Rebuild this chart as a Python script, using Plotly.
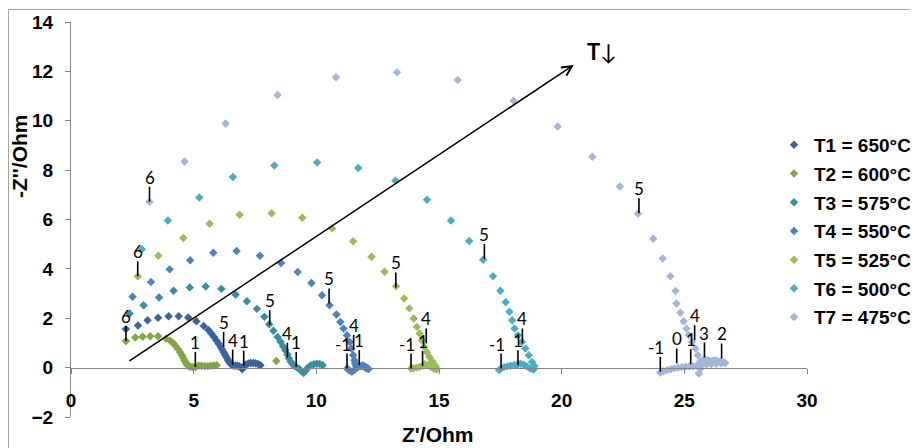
import plotly.graph_objects as go

# ---------------- data ----------------
series_names = ["T1 = 650°C", "T2 = 600°C", "T3 = 575°C", "T4 = 550°C",
                "T5 = 525°C", "T6 = 500°C", "T7 = 475°C"]
series_colors = ["#3B63A0", "#84A545", "#3A8EA3", "#4F81BD",
                 "#9BBB59", "#4BACC6", "#A5B5D8"]

t1_x = [2.24, 2.73, 3.12, 3.55, 3.98, 4.39, 4.78, 5.11, 5.41, 5.60, 5.72, 5.83, 5.93, 6.02,
        6.10, 6.17, 6.23, 6.29, 6.35, 6.40, 6.45, 6.50, 6.56, 6.62, 6.70, 6.78, 6.86, 6.93,
        6.98, 7.04, 7.12, 7.22, 7.32, 7.42, 7.52, 7.62, 7.72]
t1_y = [1.56, 1.71, 1.92, 2.02, 2.08, 2.08, 2.03, 1.88, 1.69, 1.52, 1.38, 1.24, 1.10, 0.97,
        0.84, 0.72, 0.61, 0.50, 0.40, 0.31, 0.23, 0.16, 0.11, 0.09, 0.08, 0.08, 0.06, 0.00,
        -0.07, 0.02, 0.12, 0.17, 0.19, 0.19, 0.18, 0.15, 0.10]

t2_x = [2.24, 2.62, 2.92, 3.23, 3.55, 3.88, 4.05, 4.18, 4.28, 4.37, 4.45, 4.52, 4.58, 4.63,
        4.68, 4.73, 4.80, 4.88, 4.97, 5.07, 5.20, 5.32, 5.45, 5.58, 5.70, 5.82, 5.94, 8.37]
t2_y = [1.08, 1.22, 1.25, 1.27, 1.27, 1.18, 1.09, 0.98, 0.86, 0.74, 0.62, 0.50, 0.39, 0.29,
        0.20, 0.12, 0.06, 0.03, 0.02, 0.02, 0.09, 0.08, 0.06, 0.06, 0.08, 0.09, 0.10, 0.27]

t3_x = [2.39, 2.96, 3.59, 4.18, 4.84, 5.49, 6.13, 6.71, 7.17, 7.58, 7.88, 8.08, 8.25, 8.42,
        8.54, 8.64, 8.74, 8.82, 8.88, 8.95, 9.03, 9.12, 9.20, 9.30, 9.40, 9.48, 9.57, 9.67,
        9.78, 9.90, 10.02, 10.14, 10.26]
t3_y = [2.19, 2.53, 2.84, 3.11, 3.25, 3.29, 3.19, 2.95, 2.69, 2.38, 2.06, 1.76, 1.49, 1.24,
        1.05, 0.87, 0.70, 0.53, 0.38, 0.25, 0.14, 0.06, 0.02, -0.05, -0.15, -0.22, -0.12, 0.02,
        0.10, 0.14, 0.16, 0.15, 0.10]

t4_x = [2.51, 3.26, 4.02, 4.86, 5.80, 6.75, 7.70, 8.56, 9.24, 9.80, 10.23, 10.54, 10.82, 10.98,
        11.11, 11.25, 11.36, 11.43, 11.50, 11.55, 11.58, 11.62, 11.70, 11.80, 11.90, 12.00,
        12.10, 12.13, 12.05, 11.95, 11.85, 11.75, 11.65, 11.55, 11.45, 11.35, 11.25]
t4_y = [2.87, 3.47, 3.98, 4.35, 4.65, 4.72, 4.53, 4.24, 3.87, 3.43, 2.93, 2.53, 2.15, 1.85,
        1.58, 1.31, 1.04, 0.77, 0.50, 0.30, 0.18, 0.08, 0.04, 0.06, 0.10, 0.04, -0.02, -0.06,
        -0.04, 0.02, 0.06, 0.08, 0.00, -0.10, -0.17, -0.12, -0.04]

t5_x = [2.72, 3.56, 4.58, 5.65, 6.87, 8.18, 9.43, 10.64, 11.50, 12.25, 12.78, 13.25, 13.58,
        13.79, 13.97, 14.10, 14.21, 14.31, 14.40, 14.51, 14.62, 14.72, 14.80, 14.87, 14.90,
        14.80, 14.68, 14.55, 14.42, 14.33, 14.20, 14.08, 13.96, 13.86]
t5_y = [3.70, 4.53, 5.25, 5.83, 6.19, 6.25, 6.07, 5.64, 5.12, 4.49, 3.88, 3.30, 2.80,
        2.40, 1.99, 1.65, 1.38, 1.11, 0.84, 0.62, 0.42, 0.26, 0.14, 0.04, -0.08,
        -0.06, 0.02, 0.10, 0.14, 0.08, 0.03, 0.00, -0.03, -0.04]

t6_x = [2.89, 3.95, 5.23, 6.60, 8.29, 10.03, 11.71, 13.22, 14.51, 15.49, 16.23, 16.80, 17.20,
        17.50, 17.72, 17.87, 17.98, 18.08, 18.22, 18.38, 18.52, 18.66, 18.79, 18.89, 18.85,
        18.72, 18.58, 18.45, 18.32, 18.20, 18.06, 17.92, 17.78, 17.65, 17.53, 17.45]
t6_y = [4.80, 5.96, 6.89, 7.72, 8.19, 8.31, 8.09, 7.57, 6.80, 5.96, 5.13, 4.37, 3.70,
        3.11, 2.65, 2.26, 1.92, 1.58, 1.31, 1.04, 0.77, 0.50, 0.23, 0.07, -0.08,
        -0.04, 0.05, 0.12, 0.16, 0.12, 0.10, 0.08, 0.05, 0.02, -0.04, -0.10]

t7_x = [3.20, 4.63, 6.30, 8.42, 10.80, 13.29, 15.76, 18.04, 19.84, 21.25, 22.37, 23.11, 23.73,
        24.12, 24.43, 24.64, 24.68, 24.84, 24.97, 25.09, 25.18, 25.31, 25.45, 25.55, 25.63,
        25.66, 25.59, 25.75, 25.85, 25.95, 26.05, 26.15, 26.25, 26.35, 26.47, 26.60, 26.67,
        26.50, 26.30, 26.10, 25.90, 25.70, 25.50, 25.35, 25.20, 25.05, 24.90, 24.75, 24.60,
        24.45, 24.30, 24.15, 24.02]
t7_y = [6.72, 8.35, 9.89, 11.04, 11.76, 11.96, 11.65, 10.81, 9.77, 8.54, 7.34, 6.23, 5.22,
        4.42, 3.70, 3.10, 2.60, 2.22, 1.88, 1.58, 1.31, 1.04, 0.77, 0.50, 0.23,
        -0.04, -0.24, 0.30, 0.32, 0.30, 0.28, 0.28, 0.30, 0.27, 0.25, 0.22, 0.19,
        0.18, 0.16, 0.15, 0.13, 0.12, 0.08, 0.06, 0.05, 0.04, 0.02, 0.00, -0.03,
        -0.07, -0.10, -0.15, -0.20]

series_x = [t1_x, t2_x, t3_x, t4_x, t5_x, t6_x, t7_x]
series_y = [t1_y, t2_y, t3_y, t4_y, t5_y, t6_y, t7_y]

# frequency-decade labels (log f) attached to data points
label_text = ["6", "6", "6",
              "5", "5", "5", "5", "5", "5",
              "4", "4", "4", "4", "4", "4",
              "1", "1", "1", "1", "1", "1", "1",
              "-1", "-1", "-1", "-1",
              "0", "3", "2"]
label_x = [3.20, 2.72, 2.24,
           6.22, 8.10, 10.52, 13.24, 16.85, 23.15,
           6.59, 8.82, 11.52, 14.48, 18.40, 25.42,
           5.07, 7.04, 9.18, 11.75, 14.33, 18.22, 25.26,
           11.25, 13.86, 17.53, 24.02,
           24.69, 25.82, 26.52]
label_y = [6.72, 3.70, 1.08,
           0.84, 1.72, 2.60, 3.25, 4.40, 6.25,
           0.12, 0.40, 0.72, 0.98, 0.98, 1.11,
           0.03, 0.08, 0.03, 0.10, 0.07, 0.10, 0.14,
           -0.04, -0.04, -0.04, -0.17,
           0.17, 0.41, 0.37]

arrow_start = (2.32, 0.23)
arrow_end = (20.49, 12.26)

x_ticks = [0, 5, 10, 15, 20, 25, 30]
y_ticks = [-2, 0, 2, 4, 6, 8, 10, 12, 14]

# ---------------- figure ----------------
fig = go.Figure()
for i, name in enumerate(series_names):
    fig.add_trace(go.Scatter(
        x=series_x[i], y=series_y[i], mode="markers", name=name,
        legendgroup=name,
        marker=dict(symbol="diamond", size=6.5, color=series_colors[i],
                    line=dict(width=0)),
        cliponaxis=False,
    ))

AXCOL = "#868686"
PAGE_OFF = 8                      # default body margin of the html page
W, H = 910, 440
ML, MR, MT, MB = 63, 111, 14, 31
PW, PH = W - ML - MR, H - MT - MB


def px_to_paper_x(px):            # px measured on the page
    return (px - PAGE_OFF - ML) / PW


def px_to_paper_y(py):
    return (H - MB - (py - PAGE_OFF)) / PH


shapes = []
annotations = []

# label leader lines + texts
for t, lx, ly in zip(label_text, label_x, label_y):
    shapes.append(dict(type="line", xref="x", yref="y", ysizemode="pixel",
                       yanchor=ly, y0=0, y1=15, x0=lx, x1=lx,
                       line=dict(color="black", width=1.6)))
    annotations.append(dict(x=lx, y=ly, xref="x", yref="y", text=t,
                            showarrow=False, yanchor="bottom", yshift=12,
                            xshift=(-4 if t.startswith("-") else 0),
                            font=dict(family="Lato, Carlito, sans-serif", size=17,
                                      color="black")))

# temperature arrow
annotations.append(dict(x=arrow_end[0], y=arrow_end[1], ax=arrow_start[0], ay=arrow_start[1],
                        xref="x", yref="y", axref="x", ayref="y", text="",
                        showarrow=True, arrowhead=5, arrowsize=1.3, arrowwidth=1.5,
                        arrowcolor="black"))
annotations.append(dict(x=21.65, y=12.8, xref="x", yref="y", text="<b>T</b>↓",
                        showarrow=False,
                        font=dict(family="Lato, sans-serif", size=22, color="black")))

# axis titles
annotations.append(dict(x=px_to_paper_x(438), y=px_to_paper_y(434), xref="paper", yref="paper",
                        xanchor="center", yanchor="middle",
                        text="Z'/Ohm", showarrow=False,
                        font=dict(family="Liberation Sans, Arial", size=21, color="black",
                                  weight="bold")))
annotations.append(dict(x=px_to_paper_x(19), y=px_to_paper_y(157), xref="paper", yref="paper",
                        xanchor="center", yanchor="middle",
                        text="-Z''/Ohm", showarrow=False, textangle=-90,
                        font=dict(family="Liberation Sans, Arial", size=21, color="black",
                                  weight="bold")))

# chart area border
shapes.append(dict(type="rect", xref="paper", yref="paper",
                   x0=px_to_paper_x(8.5), x1=px_to_paper_x(940),
                   y0=px_to_paper_y(470), y1=px_to_paper_y(9.5),
                   line=dict(color="#A6A6A6", width=1), layer="below"))

tickfont = dict(family="Liberation Sans, Arial", size=19, color="black", weight="bold")

fig.update_layout(
    template="none",
    width=W, height=H,
    margin=dict(l=ML, r=MR, t=MT, b=MB, autoexpand=False),
    paper_bgcolor="white", plot_bgcolor="white",
    showlegend=True,
    legend=dict(x=px_to_paper_x(774), y=px_to_paper_y(126), xanchor="left", yanchor="top",
                font=dict(family="Liberation Sans, Arial", size=19, color="black",
                          weight="bold"),
                bgcolor="rgba(0,0,0,0)", borderwidth=0, tracegroupgap=1,
                itemclick=False),
    xaxis=dict(range=[0, 30], tickvals=x_ticks, showgrid=False, zeroline=False,
               showline=True, linecolor=AXCOL, linewidth=1,
               ticks="outside", ticklen=5, tickcolor=AXCOL, tickwidth=1,
               tickfont=tickfont, ticklabelstandoff=11,
               anchor="free", position=2 / 16, automargin=False),
    yaxis=dict(range=[-2, 14], tickvals=y_ticks, showgrid=False, zeroline=False,
               showline=True, linecolor=AXCOL, linewidth=1,
               ticks="outside", ticklen=5, tickcolor=AXCOL, tickwidth=1,
               tickfont=tickfont, ticklabelstandoff=8, automargin=False),
    shapes=shapes,
    annotations=annotations,
)

fig.write_html("out.html")
